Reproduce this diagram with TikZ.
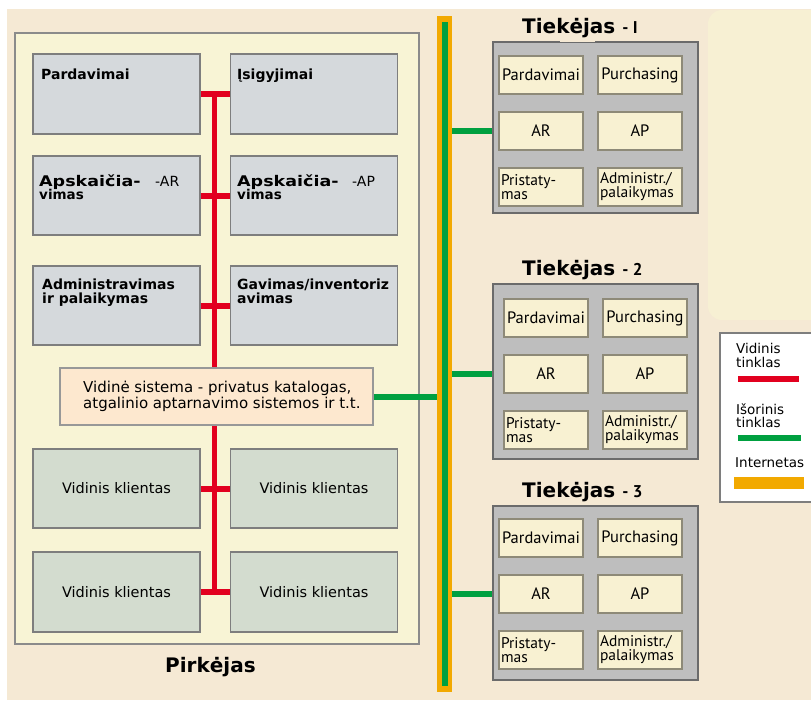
\documentclass[tikz,border=0pt]{standalone}
\usepackage{fontspec}
\setmainfont{DejaVu Sans}
\newfontfamily\gillfont{PT Sans}

\definecolor{pagebg}{HTML}{F5E9D4}
\definecolor{pale}{HTML}{F7F0D3}
\definecolor{buyerfill}{HTML}{F8F4D5}
\definecolor{deptfill}{HTML}{D5D9DC}
\definecolor{clientfill}{HTML}{D3DCCF}
\definecolor{sysfill}{HTML}{FDE8CF}
\definecolor{supfill}{HTML}{BEBEBE}
\definecolor{subfill}{HTML}{F8F1D2}
\definecolor{netred}{HTML}{E2001F}
\definecolor{netgreen}{HTML}{00A040}
\definecolor{netorange}{HTML}{F2A900}
\definecolor{edgegray}{HTML}{7E7E7E}
\definecolor{subedge}{HTML}{8E8A78}

\tikzset{
  buyerframe/.style={draw=edgegray!90, fill=buyerfill, line width=1.5pt,
    minimum width=404pt, minimum height=611pt, inner sep=0pt},
  dept/.style={draw=edgegray, fill=deptfill, line width=1.5pt,
    minimum width=167pt, minimum height=80pt, inner sep=0pt},
  client/.style={dept, fill=clientfill, font=\fontsize{14.5}{16}\selectfont},
  sysbox/.style={draw=edgegray!80, fill=sysfill, line width=1.5pt,
    minimum width=313pt, minimum height=57pt, inner sep=0pt},
  btext/.style={inner sep=0pt, anchor=base west, font=\bfseries\fontsize{14}{14}\selectfont},
  rtext/.style={inner sep=0pt, anchor=base west, font=\fontsize{14}{14}\selectfont},
  systext/.style={inner sep=0pt, anchor=base west, font=\fontsize{15}{16}\selectfont},
  bigtitle/.style={inner sep=0pt, anchor=base west, font=\bfseries\fontsize{20}{20}\selectfont},
  supbox/.style={draw=edgegray!85!black, fill=supfill, line width=2pt,
    minimum width=205pt, inner sep=0pt},
  subbox/.style={draw=subedge, fill=subfill, line width=1.5pt,
    minimum width=84pt, minimum height=38pt, inner sep=1pt,
    font=\gillfont\fontsize{16.5}{13}\selectfont},
  subtwo/.style={text width=80pt, align=left,
    font=\gillfont\fontsize{15.5}{14}\selectfont},
  intnet/.style={draw=netred, line width=6pt},
  extnet/.style={draw=netgreen, line width=6pt},
  legtext/.style={inner sep=0pt, anchor=base west, align=left,
    font=\fontsize{13.5}{14}\selectfont},
  swatch/.style={inner sep=0pt, minimum height=6pt},
}

% one supplier block: name, top edge, height, x offset, y offset, number
\newcommand\supplierblock[6]{%
  \node[supbox, minimum height=#3pt, anchor=north] (#1) at (595.5,#2) {};
  \begin{scope}[shift={(#4,#2+#5)}]
    \node[subbox] (#1-sales) at (541,19) {Pardavimai};
    \node[subbox] (#1-purch) at (640,19) {Purchasing};
    \node[subbox] (#1-ar) at (541,75) {AR};
    \node[subbox] (#1-ap) at (640,75) {AP};
    \node[subbox, subtwo] (#1-del) at (541,131) {Pristaty-\\mas};
    \node[subbox, subtwo] (#1-adm) at (640,131) {Administr./\\palaikymas};
  \end{scope}
  \node[bigtitle] (#1-title) at (522,#2-8)
    {Tiekėjas\ {\gillfont\fontsize{17}{17}\selectfont - #6}};
  \draw[extnet] (inet.east |- #1-ar) -- (#1.west |- #1-ar);
}

\begin{document}
\begin{tikzpicture}[x=1pt, y=-1pt]
\useasboundingbox (0,0) rectangle (811,702);
\fill[white] (0,0) rectangle (811,702);
\fill[pagebg] (7,9) rectangle (811,700);

% pale panel along the right edge
\fill[pale, rounded corners=14pt] (811,10) -- (708,10) -- (708,320) -- (811,320);

% ---------- buyer ----------
\node[buyerframe] (buyer) at (217,338.5) {};

\node[dept] (pard) at (116.5,94) {};
\node[dept] (isig) at (314,94) {};
\node[dept, minimum height=79pt] (apsar) at (116.5,195.5) {};
\node[dept, minimum height=79pt] (apsap) at (314,195.5) {};
\node[dept, minimum height=79pt] (adm) at (116.5,305.5) {};
\node[dept, minimum height=79pt] (gav) at (314,305.5) {};
\node[client, minimum height=79pt] (vk1) at (116.5,488.5) {Vidinis klientas};
\node[client, minimum height=79pt] (vk2) at (314,488.5) {Vidinis klientas};
\node[client] (vk3) at (116.5,592) {Vidinis klientas};
\node[client] (vk4) at (314,592) {Vidinis klientas};

% internal network bus
\coordinate (bustop) at (214,91);
\coordinate (busbot) at (214,595);
\draw[intnet, line width=5pt] (bustop) -- (busbot);
\draw[intnet] (pard.east) -- (isig.west);
\draw[intnet] (apsar.east) -- (apsap.west);
\draw[intnet] (adm.east) -- (gav.west);
\draw[intnet] (vk1.east) -- (vk2.west);
\draw[intnet] (vk3.east) -- (vk4.west);

\node[sysbox] (vid) at (216.5,396.5) {};
\node[systext] (vid-l1) at (83,392) {Vidinė sistema - privatus katalogas,};
\node[systext] (vid-l2) at (83,408) {atgalinio aptarnavimo sistemos ir t.t.};

\node[btext] (t-pard) at (41,79) {Pardavimai};
\node[btext] (t-isig) at (237,79) {Įsigyjimai};
\node[btext] (t-apsar1) at (39,186) {\scalebox{1.25}[1.05]{Apskaičia-}};
\node[rtext] (t-apsar-code) at (155,186) {-AR};
\node[btext, font=\bfseries\fontsize{13.5}{13.5}\selectfont] (t-apsar2) at (39,199) {vimas};
\node[btext] (t-apsap1) at (237,186) {\scalebox{1.25}[1.05]{Apskaičia-}};
\node[rtext] (t-apsap-code) at (352,186) {-AP};
\node[btext, font=\bfseries\fontsize{13.5}{13.5}\selectfont] (t-apsap2) at (237,199) {vimas};
\node[btext] (t-adm1) at (42,289) {Administravimas};
\node[btext] (t-adm2) at (42,303) {ir palaikymas};
\node[btext] (t-gav1) at (237,289) {Gavimas/inventoriz};
\node[btext] (t-gav2) at (237,303) {avimas};

\node[bigtitle] (t-buyer) at (165,672) {Pirkėjas};

% ---------- internet backbone ----------
\node[fill=netorange, minimum width=15pt, minimum height=676pt, inner sep=0pt] (inet) at (444.5,354) {};
\coordinate (inet-top) at (445,22);
\coordinate (inet-bot) at (445,686);
\draw[extnet] (inet-top) -- (inet-bot);
\draw[extnet] (vid.east) -- (vid.east -| inet.west);

% ---------- suppliers ----------
\supplierblock{s1}{41}{171}{0}{15}{I}
\draw[pagebg, line width=2.5pt] (560,41) -- (595,41);
\supplierblock{s2}{283}{175}{5}{16}{2}
\supplierblock{s3}{505}{174}{0}{14}{3}

% ---------- legend ----------
\node[draw=edgegray, fill=white, line width=1.5pt, minimum width=95pt, minimum height=169pt,
  inner sep=0pt] (legend) at (767.5,417.5) {};
\node[legtext] (lg-int1) at (736,353) {Vidinis};
\node[legtext] (lg-int2) at (736,367) {tinklas};
\node[swatch, fill=netred, minimum width=61pt] (lg-red) at (768.5,379) {};
\node[legtext] (lg-ext1) at (736,414) {Išorinis};
\node[legtext] (lg-ext2) at (736,427) {tinklas};
\node[swatch, fill=netgreen, minimum width=63pt] (lg-green) at (769.5,438) {};
\node[legtext] (lg-web) at (735,467) {Internetas};
\node[swatch, fill=netorange, minimum width=70pt, minimum height=12pt] (lg-orange) at (769,483) {};
\end{tikzpicture}
\end{document}
